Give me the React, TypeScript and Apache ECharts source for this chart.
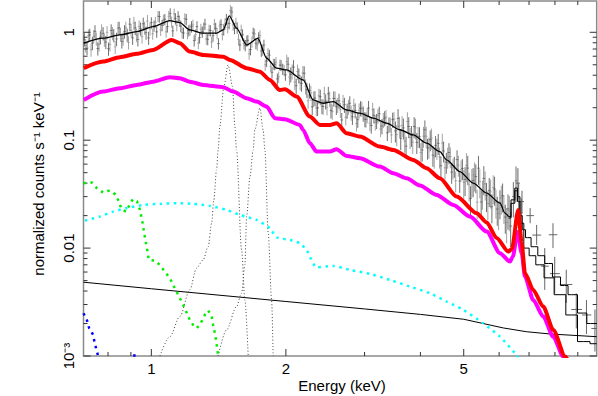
import React, { useEffect, useRef } from "react";
import * as echarts from "echarts";

const FONT = '"Liberation Sans", Arial, Helvetica, sans-serif';
const X_MIN = 0.705;
const X_MAX = 9.92;
const Y_MIN = 0.001;
const Y_MAX = 1.95;

// ---- axis ticks / labels ----
const xMajorTicks = [1, 2, 5];
const xTickLabels = ["1", "2", "5"];
const xMinorTicks = [0.8, 0.9, 3, 4, 6, 7, 8, 9];
const yMajorTicks = [0.001, 0.01, 0.1, 1];
const yTickLabels = ["10\u207B\u00B3", "0.01", "0.1", "1"];
const yMinorTicks = [
  0.002, 0.003, 0.004, 0.005, 0.006, 0.007, 0.008, 0.009,
  0.02, 0.03, 0.04, 0.05, 0.06, 0.07, 0.08, 0.09,
  0.2, 0.3, 0.4, 0.5, 0.6, 0.7, 0.8, 0.9,
];

// ---- observed spectrum, instrument 1 (dense bins) ----
const dataE = [0.708,0.718,0.728,0.738,0.748,0.759,0.769,0.780,0.791,0.802,
0.813,0.824,0.836,0.847,0.859,0.871,0.883,0.895,0.908,0.920,
0.933,0.946,0.959,0.973,0.986,1.000,1.014,1.028,1.042,1.057,
1.072,1.086,1.102,1.117,1.132,1.148,1.164,1.180,1.197,1.213,
1.230,1.247,1.265,1.282,1.300,1.318,1.337,1.355,1.374,1.393,
1.413,1.432,1.452,1.472,1.493,1.514,1.535,1.556,1.578,1.600,
1.622,1.644,1.667,1.690,1.714,1.738,1.762,1.786,1.811,1.837,
1.862,1.888,1.914,1.941,1.968,1.995,2.023,2.051,2.080,2.109,
2.138,2.168,2.198,2.228,2.259,2.291,2.323,2.355,2.388,2.421,
2.455,2.489,2.523,2.559,2.594,2.630,2.667,2.704,2.742,2.780,
2.818,2.858,2.897,2.938,2.979,3.020,3.062,3.105,3.148,3.192,
3.236,3.281,3.327,3.373,3.420,3.467,3.516,3.565,3.614,3.664,
3.715,3.767,3.819,3.873,3.926,3.981,4.036,4.093,4.150,4.207,
4.266,4.325,4.385,4.446,4.508,4.571,4.634,4.699,4.764,4.831,
4.898,4.966,5.035,5.105,5.176,5.248,5.321,5.395,5.470,5.546,
5.623,5.702,5.781,5.861,5.943,6.026,6.109,6.194,6.281,6.368,
6.457,6.546,6.637,6.730];
const dataV = [0.859,0.712,0.946,0.794,1.02,0.707,0.898,0.979,0.812,0.704,
1.04,0.940,0.868,1.10,0.822,1.02,0.948,1.19,0.888,1.10,
0.859,1.08,1.20,0.991,0.888,1.23,1.15,1.01,1.40,1.16,
1.32,1.13,1.49,1.03,1.34,1.40,1.14,0.986,1.32,1.04,
1.13,0.838,1.13,0.896,1.01,1.19,0.861,1.04,0.931,1.09,
0.786,1.18,1.06,1.32,1.21,1.54,1.09,1.10,0.763,0.949,
0.757,0.842,0.694,0.984,0.791,0.893,0.672,0.762,0.541,0.614,
0.426,0.505,0.370,0.497,0.457,0.404,0.506,0.408,0.476,0.320,
0.399,0.335,0.417,0.294,0.289,0.204,0.246,0.199,0.253,0.205,
0.229,0.269,0.189,0.244,0.204,0.232,0.154,0.213,0.188,0.220,
0.165,0.189,0.155,0.198,0.177,0.156,0.199,0.137,0.170,0.151,
0.176,0.135,0.160,0.117,0.140,0.155,0.122,0.159,0.104,0.130,
0.0881,0.134,0.111,0.134,0.0954,0.108,0.0813,0.125,0.0845,0.101,
0.0726,0.0895,0.0935,0.058,0.0795,0.0626,0.0769,0.0506,0.0575,0.0661,
0.0417,0.0547,0.0433,0.0551,0.0288,0.0424,0.046,0.055,0.0268,0.0442,
0.0308,0.0343,0.0242,0.0353,0.023,0.0264,0.0305,0.0194,0.0231,0.016,
0.0301,0.042,0.029,0.0212];

// ---- observed spectrum, instrument 2 (interleaved bins) ----
const data2E = [0.713,0.723,0.733,0.743,0.753,0.764,0.774,0.785,0.796,0.808,
0.819,0.830,0.842,0.853,0.865,0.877,0.889,0.901,0.914,0.926,
0.939,0.953,0.966,0.980,0.993,1.007,1.021,1.035,1.049,1.064,
1.079,1.094,1.110,1.125,1.140,1.156,1.172,1.188,1.205,1.221,
1.239,1.256,1.274,1.291,1.309,1.327,1.346,1.364,1.384,1.403,
1.423,1.442,1.462,1.482,1.503,1.524,1.546,1.567,1.589,1.611,
1.633,1.655,1.679,1.702,1.726,1.750,1.774,1.798,1.824,1.850,
1.875,1.901,1.927,1.954,1.982,2.009,2.037,2.065,2.094,2.124,
2.153,2.183,2.213,2.243,2.275,2.307,2.339,2.371,2.405,2.438,
2.472,2.506,2.540,2.577,2.612,2.648,2.685,2.723,2.761,2.799,
2.838,2.878,2.917,2.958,3.000,3.041,3.083,3.127,3.170,3.214,
3.258,3.304,3.350,3.396,3.444,3.491,3.540,3.590,3.639,3.689,
3.741,3.793,3.845,3.900,3.953,4.009,4.064,4.121,4.179,4.236,
4.296,4.355,4.415,4.477,4.539,4.603,4.666,4.732,4.797,4.864,
4.932,5.000,5.070,5.140,5.212,5.284,5.358,5.432,5.508,5.584,
5.662,5.742,5.821,5.902,5.984,6.068,6.151,6.237,6.325];
const data2V = [0.754,0.930,0.689,0.919,0.873,0.772,1.04,0.852,1.00,0.772,
0.982,0.732,1.09,0.960,0.875,1.10,0.805,1.04,1.22,0.945,
1.13,0.913,1.10,1.27,1.08,0.968,1.24,1.41,1.05,1.30,
1.01,1.41,1.25,1.48,1.16,1.28,0.995,1.34,0.978,1.06,
1.17,0.952,0.792,1.07,1.10,0.870,1.05,0.813,1.19,0.980,
1.14,0.956,1.20,1.11,1.59,1.17,1.22,0.861,1.05,0.786,
0.832,0.631,0.816,0.966,0.766,0.932,0.688,0.500,0.638,0.485,
0.510,0.528,0.386,0.495,0.446,0.534,0.384,0.434,0.346,0.433,
0.344,0.420,0.316,0.232,0.275,0.243,0.199,0.258,0.208,0.270,
0.202,0.243,0.184,0.244,0.212,0.191,0.227,0.163,0.204,0.180,
0.209,0.143,0.189,0.196,0.157,0.171,0.144,0.192,0.146,0.169,
0.127,0.154,0.164,0.140,0.112,0.157,0.113,0.135,0.137,0.0982,
0.149,0.106,0.096,0.130,0.109,0.0768,0.109,0.109,0.0863,0.105,
0.0698,0.0842,0.0699,0.0942,0.0555,0.0698,0.0705,0.0555,0.0421,0.0588,
0.0533,0.0408,0.0584,0.0385,0.0416,0.0478,0.0266,0.0414,0.0324,0.0394,
0.0259,0.0332,0.0364,0.0267,0.0209,0.0291,0.0239,0.0173,0.0224];

// relative 1-sigma error by energy band [from keV, fraction]
const errBands = [[0.7, 0.14], [1.0, 0.12], [2.0, 0.16], [3.5, 0.22], [5.0, 0.3], [6.2, 0.36]];
// wide high-energy bins: [E, V, Vlo, Vhi, Elo, Ehi]
const wideBins = [
  [6.61, 0.040, 0.030, 0.055, 6.54, 6.68],
  [6.75, 0.027, 0.021, 0.034, 6.69, 6.82],
  [7.04, 0.020, 0.017, 0.0235, 6.90, 7.18],
  [7.28, 0.0132, 0.0107, 0.0164, 7.12, 7.45],
  [7.59, 0.0068, 0.0041, 0.0100, 7.45, 7.75],
  [7.92, 0.0133, 0.0100, 0.0170, 7.75, 8.10],
  [7.99, 0.0058, 0.0038, 0.0083, 7.80, 8.20],
  [8.48, 0.0046, 0.0031, 0.0063, 8.20, 8.75],
  [8.93, 0.0027, 0.0018, 0.0038, 8.70, 9.20],
  [9.41, 0.0024, 0.0016, 0.0033, 9.20, 9.65],
  [9.83, 0.0018, 0.0011, 0.0027, 9.65, 9.92],
];

// ---- total model ----
const modelE = [0.706, 0.780, 0.850, 0.927, 1.009, 1.100, 1.158, 1.219, 1.306, 1.399, 1.448, 1.494, 1.551, 1.634, 1.731, 1.811, 1.906, 2.007, 2.186, 2.302, 2.424, 2.552, 2.735, 2.928, 3.136, 3.36, 3.6, 3.854, 4.129, 4.422, 4.578, 4.903, 5.252, 5.627, 6.026, 6.183, 6.30];
const modelV = [0.793, 0.882, 0.946, 1.015, 1.129, 1.284, 1.23, 1.053, 0.981, 0.981, 1.053, 1.419, 1.091, 0.764, 0.878, 0.575, 0.465, 0.448, 0.362, 0.236, 0.220, 0.228, 0.191, 0.178, 0.160, 0.144, 0.125, 0.112, 0.0938, 0.0784, 0.0657, 0.0512, 0.040, 0.0323, 0.0261, 0.0211, 0.0196];
const modelAE = [6.30, 6.46, 6.55, 6.64, 6.72, 6.80, 6.95, 7.2, 7.45, 7.73, 8.07, 8.4, 8.72, 9.26, 9.6, 9.92];
const modelAV = [0.0196, 0.028, 0.036, 0.030, 0.020, 0.0148, 0.0125, 0.0103, 0.0085, 0.0072, 0.0054, 0.0045, 0.0037, 0.0025, 0.0020, 0.0020];
const modelBE = [6.30, 6.46, 6.55, 6.64, 6.72, 6.91, 7.1, 7.4, 7.73, 8.21, 8.72, 9.26, 9.92];
const modelBV = [0.0190, 0.026, 0.034, 0.027, 0.017, 0.0100, 0.0085, 0.0070, 0.0053, 0.0037, 0.0024, 0.00136, 0.0013];

// ---- components ----
const redE = [0.706, 0.780, 0.850, 0.927, 1.009, 1.110, 1.158, 1.219, 1.306, 1.448, 1.499, 1.634, 1.749, 1.841, 1.939, 1.990, 2.113, 2.263, 2.383, 2.509, 2.597, 2.735, 2.928, 3.246, 3.477, 3.854, 4.129, 4.422, 4.821, 5.344, 5.627, 5.923, 6.290, 6.41, 6.62, 6.74, 6.855, 7.153, 7.53, 7.93, 8.43, 8.7];
const redV = [0.465, 0.535, 0.588, 0.631, 0.687, 0.850, 0.793, 0.662, 0.617, 0.595, 0.555, 0.465, 0.432, 0.362, 0.292, 0.297, 0.254, 0.1655, 0.1386, 0.1386, 0.1438, 0.1161, 0.108, 0.0872, 0.0813, 0.0657, 0.055, 0.0444, 0.030, 0.02106, 0.0173, 0.01243, 0.00928, 0.00983, 0.0226, 0.0111, 0.00585, 0.0041, 0.00287, 0.001746, 0.000987, 0.0008];
const magE = [0.706, 0.780, 0.850, 0.927, 1.009, 1.100, 1.158, 1.219, 1.306, 1.448, 1.524, 1.634, 1.720, 1.811, 1.890, 1.990, 2.149, 2.186, 2.263, 2.343, 2.509, 2.597, 2.735, 2.928, 3.246, 3.477, 3.726, 3.99, 4.347, 4.738, 5.163, 5.627, 6.026, 6.345, 6.44, 6.595, 6.74, 6.855, 7.153, 7.53, 7.93, 8.35, 8.6];
const magV = [0.2363, 0.282, 0.303, 0.3255, 0.349, 0.3836, 0.3756, 0.349, 0.3255, 0.31, 0.282, 0.245, 0.228, 0.205, 0.16, 0.1565, 0.1386, 0.1246, 0.0938, 0.0784, 0.0784, 0.0825, 0.0715, 0.0681, 0.0569, 0.0494, 0.0444, 0.0381, 0.0311, 0.02515, 0.01958, 0.01422, 0.00897, 0.0075, 0.00834, 0.01413, 0.00897, 0.00544, 0.00331, 0.00232, 0.00151, 0.000987, 0.0008];
const cyanE = [0.710, 0.767, 0.821, 0.880, 0.959, 1.045, 1.139, 1.24, 1.352, 1.473, 1.578, 1.72, 1.841, 1.906, 2.042, 2.149, 2.225, 2.343, 2.552, 2.782, 3.083, 3.419, 3.79, 4.2, 4.578, 4.988, 5.53, 6.026, 6.51, 6.8];
const cyanV = [0.01798, 0.0196, 0.0218, 0.02344, 0.02515, 0.02568, 0.0261, 0.02568, 0.0246, 0.0226, 0.0203, 0.01825, 0.0153, 0.0126, 0.0119, 0.0111, 0.00962, 0.00665, 0.00684, 0.00628, 0.00577, 0.00507, 0.0044, 0.00382, 0.00319, 0.00268, 0.00201, 0.00151, 0.00106, 0.0008];
const greenE = [0.705, 0.735, 0.755, 0.780, 0.807, 0.831, 0.846, 0.858, 0.877, 0.893, 0.909, 0.929, 0.943, 0.955, 0.967, 0.979, 0.987, 1.018, 1.045, 1.072, 1.100, 1.119, 1.139, 1.158, 1.178, 1.199, 1.219, 1.240, 1.262, 1.284, 1.317, 1.340, 1.364, 1.375, 1.387, 1.399, 1.411, 1.43];
const greenV = [0.040, 0.0406, 0.0359, 0.0327, 0.03425, 0.03146, 0.027, 0.02284, 0.0218, 0.02488, 0.0284, 0.0271, 0.0226, 0.0175, 0.0127, 0.00962, 0.00778, 0.00766, 0.00699, 0.00606, 0.00526, 0.00456, 0.00395, 0.00343, 0.00298, 0.00253, 0.00216, 0.00194, 0.00181, 0.00194, 0.0024, 0.00264, 0.00235, 0.00194, 0.00163, 0.00131, 0.001, 0.0007];
const blueE = [0.705, 0.718, 0.726, 0.741, 0.747, 0.754, 0.765];
const blueV = [0.00249, 0.00213, 0.00181, 0.00157, 0.00131, 0.00114, 0.0009];
const blue2E = [0.89, 0.91, 0.925, 0.94];
const blue2V = [0.0009, 0.00101, 0.00101, 0.0009];
const powE = [0.705, 1.0, 2.0, 3.0, 4.0, 5.0, 6.13, 6.9, 7.8, 9.92];
const powV = [0.00483, 0.0042, 0.0032, 0.00273, 0.00243, 0.00219, 0.00182, 0.00168, 0.0016, 0.00151];
const gauss1E = [1.045, 1.10, 1.158, 1.219, 1.262, 1.306, 1.34, 1.364, 1.38, 1.399, 1.411, 1.423, 1.453, 1.485, 1.519, 1.538, 1.551, 1.592, 1.619, 1.647];
const gauss1V = [0.001, 0.00151, 0.00232, 0.0041, 0.00651, 0.00778, 0.01032, 0.017, 0.028, 0.053, 0.0813, 0.1337, 0.314, 0.4987, 0.314, 0.1337, 0.0813, 0.00962, 0.00331, 0.001];
const gauss2E = [1.411, 1.473, 1.551, 1.592, 1.619, 1.634, 1.662, 1.690, 1.704, 1.749, 1.779, 1.795, 1.826, 1.858, 1.873];
const gauss2V = [0.001, 0.001744, 0.00287, 0.00382, 0.00699, 0.0196, 0.046, 0.0813, 0.1246, 0.198, 0.1246, 0.0813, 0.01374, 0.00331, 0.001];

const TICK = "#333";

function errFor(e: number) {
  let f = errBands[0][1];
  for (const b of errBands) if (e >= b[0]) f = b[1];
  return f;
}

function pairs(xs: number[], ys: number[]) {
  return xs.map((x, i) => [x, ys[i]]);
}

function binData(es: number[], vs: number[]) {
  return es.map((e, i) => {
    const v = vs[i];
    const f = errFor(e);
    const el = i > 0 ? Math.sqrt(es[i - 1] * e) : e / 1.007;
    const eh = i < es.length - 1 ? Math.sqrt(es[i + 1] * e) : e * 1.007;
    return [e, v, v * (1 - f), v * (1 + f), el, eh];
  });
}

function lineSeries(xs: number[], ys: number[], color: string, width: number, type: any, extra: any = {}) {
  return {
    type: "line",
    data: pairs(xs, ys),
    showSymbol: false,
    symbol: "none",
    silent: true,
    clip: true,
    lineStyle: { color, width, type, cap: "butt", join: "round" },
    ...extra,
  };
}

function errSeries(data: number[][], color: string, vw: number, hw: number) {
  return {
    type: "custom",
    silent: true,
    clip: true,
    data,
    encode: { x: 0, y: 1 },
    renderItem: (params: any, api: any) => {
      const e = api.value(0), v = api.value(1);
      const lo = api.value(2), hi = api.value(3);
      const el = api.value(4), eh = api.value(5);
      const pLo = api.coord([e, lo]);
      const pHi = api.coord([e, hi]);
      const pL = api.coord([el, v]);
      const pR = api.coord([eh, v]);
      return {
        type: "group",
        children: [
          { type: "line", shape: { x1: pLo[0], y1: pLo[1], x2: pHi[0], y2: pHi[1] }, style: { stroke: color, lineWidth: vw } },
          { type: "line", shape: { x1: pL[0], y1: pL[1], x2: pR[0], y2: pR[1] }, style: { stroke: color, lineWidth: hw } },
        ],
      };
    },
  };
}

function buildOption() {
  const d1 = binData(dataE, dataV);
  const d2 = binData(data2E, data2V);

  const xTickData = [
    ...xMajorTicks.map((v, i) => [v, Y_MIN, 1, i]),
    ...xMinorTicks.map((v) => [v, Y_MIN, 0, -1]),
  ];
  const yTickData = [
    ...yMajorTicks.map((v, i) => [X_MIN, v, 1, i]),
    ...yMinorTicks.map((v) => [X_MIN, v, 0, -1]),
  ];
  const labelStyle = (text: string) => ({
    text,
    font: `15px ${FONT}`,
    fill: "#000",
    align: "center",
    verticalAlign: "middle",
    textAlign: "center",
    textVerticalAlign: "middle",
  });

  return {
    animation: false,
    backgroundColor: "#fff",
    grid: {
      left: 83.5,
      right: 1.3,
      top: 1,
      bottom: 40,
      show: true,
      borderColor: "#8a8a8a",
      borderWidth: 1.5,
      backgroundColor: "transparent",
    },
    xAxis: {
      type: "log",
      logBase: 10,
      min: X_MIN,
      max: X_MAX,
      axisLine: { show: false },
      axisTick: { show: false },
      axisLabel: { show: false },
      splitLine: { show: false },
    },
    yAxis: {
      type: "log",
      logBase: 10,
      min: Y_MIN,
      max: Y_MAX,
      axisLine: { show: false },
      axisTick: { show: false },
      axisLabel: { show: false },
      splitLine: { show: false },
    },
    graphic: [
      { type: "text", x: 342, y: 385, style: labelStyle("Energy (keV)") },
      {
        type: "text",
        x: 38,
        y: 184,
        rotation: Math.PI / 2,
        style: labelStyle("normalized counts s\u207B\u00B9 keV\u207B\u00B9"),
      },
    ],
    series: [
      errSeries(d2, "#8c8c8c", 0.8, 0.6),
      errSeries(d1, "#4a4a4a", 0.8, 0.6),
      errSeries(wideBins, "#555", 0.9, 0.9),
      lineSeries(modelE, modelV, "#000", 1.3, "solid", { smooth: 0.25, smoothMonotone: "x" }),
      lineSeries(modelAE, modelAV, "#000", 1, "solid", { step: "middle" }),
      lineSeries(modelBE, modelBV, "#000", 1, "solid", { step: "middle" }),
      lineSeries(powE, powV, "#000", 1, "solid"),
      lineSeries(gauss1E, gauss1V, "#444", 1, [1, 2.2], { smooth: 0.3, smoothMonotone: "x" }),
      lineSeries(gauss2E, gauss2V, "#444", 1, [1, 2.2], { smooth: 0.3, smoothMonotone: "x" }),
      lineSeries(cyanE, cyanV, "#00ffff", 2.5, [2.5, 4.5], { smooth: 0.2 }),
      lineSeries(greenE, greenV, "#00ee00", 2.5, [2.5, 4.5]),
      lineSeries(blueE, blueV, "#0000ff", 2.5, [2.5, 4.5]),
      lineSeries(blue2E, blue2V, "#0000ff", 2.5, [2.5, 4.5]),
      lineSeries(magE, magV, "#ff00ff", 4, "solid", { smooth: 0.25, smoothMonotone: "x" }),
      lineSeries(redE, redV, "#ff0000", 4, "solid", { smooth: 0.25, smoothMonotone: "x" }),
      {
        type: "custom",
        silent: true,
        data: xTickData,
        encode: { x: 0, y: 1 },
        renderItem: (params: any, api: any) => {
          const cs = params.coordSys;
          const p = api.coord([api.value(0), Y_MIN]);
          const major = api.value(2) === 1;
          const len = major ? 7 : 4;
          const bottom = cs.y + cs.height;
          const top = cs.y;
          const children: any[] = [
            { type: "line", shape: { x1: p[0], y1: bottom, x2: p[0], y2: bottom - len }, style: { stroke: TICK, lineWidth: 1 } },
            { type: "line", shape: { x1: p[0], y1: top, x2: p[0], y2: top + len }, style: { stroke: TICK, lineWidth: 1 } },
          ];
          const li = api.value(3);
          if (li >= 0) {
            children.push({ type: "text", x: p[0], y: bottom + 12, style: labelStyle(xTickLabels[li]) });
          }
          return { type: "group", children };
        },
      },
      {
        type: "custom",
        silent: true,
        data: yTickData,
        encode: { x: 0, y: 1 },
        renderItem: (params: any, api: any) => {
          const cs = params.coordSys;
          const p = api.coord([X_MIN, api.value(1)]);
          const major = api.value(2) === 1;
          const len = major ? 7 : 4;
          const left = cs.x;
          const right = cs.x + cs.width;
          const children: any[] = [
            { type: "line", shape: { x1: left, y1: p[1], x2: left + len, y2: p[1] }, style: { stroke: TICK, lineWidth: 1 } },
            { type: "line", shape: { x1: right, y1: p[1], x2: right - len, y2: p[1] }, style: { stroke: TICK, lineWidth: 1 } },
          ];
          const li = api.value(3);
          if (li >= 0) {
            children.push({ type: "text", x: left - 15.5, y: p[1], rotation: Math.PI / 2, style: labelStyle(yTickLabels[li]) });
          }
          return { type: "group", children };
        },
      },
    ],
  };
}

export default function App() {
  const ref = useRef<HTMLDivElement>(null);
  useEffect(() => {
    document.body.style.margin = "0";
    const chart = echarts.init(ref.current as HTMLDivElement, null, { renderer: "svg" });
    chart.setOption(buildOption() as any);
    return () => chart.dispose();
  }, []);
  return <div ref={ref} style={{ width: 598, height: 396 }} />;
}
